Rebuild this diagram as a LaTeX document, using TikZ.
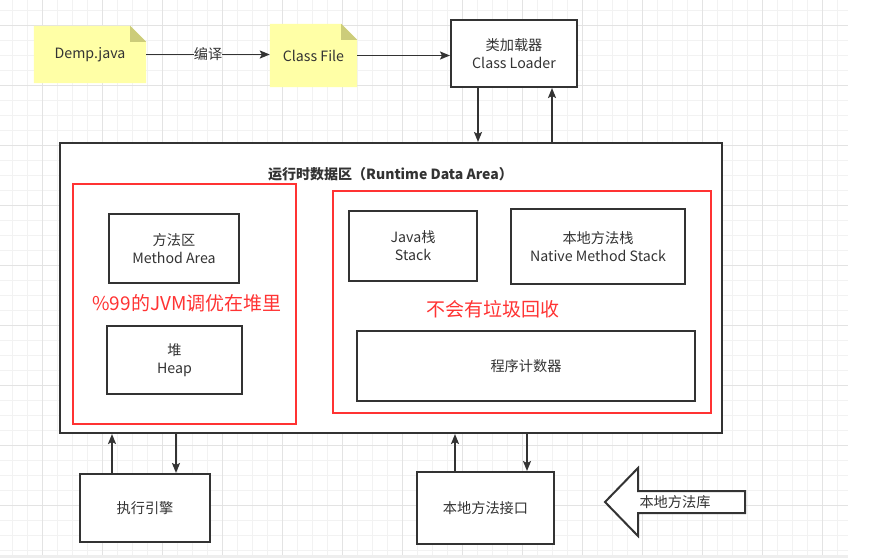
\documentclass[tikz,border=0pt]{standalone}
\usepackage{fontspec}
\setmainfont{Noto Sans CJK SC}
\usetikzlibrary{arrows.meta,calc}
\pgfdeclarelayer{gridlayer}
\pgfdeclarelayer{notelayer}
\pgfsetlayers{gridlayer,notelayer,main}
\definecolor{ink}{HTML}{333333}
\definecolor{redc}{HTML}{FF3333}
\definecolor{notey}{HTML}{FFFFA6}
\definecolor{notef}{HTML}{CCCC7A}
\definecolor{gmin}{HTML}{F2F2F2}
\definecolor{gmaj}{HTML}{E3E3E3}
\definecolor{band}{HTML}{EEEEEE}
\begin{document}
\begin{tikzpicture}[x=1pt,y=-1pt,
  txt/.style={text=ink, align=center, inner sep=0pt, font=\fontsize{14.2}{18}\selectfont},
  box/.style={txt, draw=ink, line width=2pt, fill=white},
  redbox/.style={draw=redc, line width=2.5pt, inner sep=0pt},
  redtext/.style={text=redc, inner sep=0pt, font=\fontsize{19}{22}\selectfont},
  notebox/.style={txt},
  arr/.style={draw=ink, line width=1.8pt, -{Stealth[length=10pt,width=8pt,inset=2pt]}},
  blockarrow/.style={draw=ink, line width=2pt, fill=white, line join=miter}
]
\useasboundingbox (0,0) rectangle (874,558);
\begin{pgfonlayer}{gridlayer}
  \fill[white] (0,0) rectangle (874,558);
  \foreach \x in {12,27,...,840} \draw[gmin, line width=0.8pt] (\x,0) -- (\x,555);
  \foreach \y in {10,25,...,550} \draw[gmin, line width=0.8pt] (0,\y) -- (848,\y);
  \foreach \x in {42,102,...,840} \draw[gmaj, line width=0.9pt] (\x,0) -- (\x,555);
  \foreach \y in {25,85,...,550} \draw[gmaj, line width=0.9pt] (0,\y) -- (848,\y);
  \fill[band] (0,555) rectangle (848,558);
\end{pgfonlayer}

% notes
\node[notebox, minimum width=112, minimum height=57] (demp) at (90,54.5) {Demp.java};
\node[notebox, minimum width=87, minimum height=63] (cf) at (313.5,55.5) {Class File};
\begin{pgfonlayer}{notelayer}
  \foreach \n in {demp,cf} {
    \fill[notey] (\n.south west) -- (\n.north west) -- ($(\n.north east)+(-16,0)$)
      -- ($(\n.north east)+(0,16)$) -- (\n.south east) -- cycle;
    \fill[notef] ($(\n.north east)+(-16,0)$) -- ($(\n.north east)+(0,16)$)
      -- ($(\n.north east)+(-16,16)$) -- cycle;
  }
\end{pgfonlayer}

% class loader
\node[box, minimum width=126, minimum height=67] (cl) at (514,53.5) {类加载器\\Class Loader};

% runtime data area
\node[box, minimum width=662, minimum height=290] (rt) at (391,288) {};
\node[txt, font=\fontsize{14}{16}\selectfont\bfseries] (title) at (390.5,174) {运行时数据区（Runtime Data Area）};

\node[redbox, minimum width=223, minimum height=240] (redL) at (184.5,304) {};
\node[box, minimum width=130, minimum height=69] (ma) at (174,248.5) {方法区\\Method Area};
\node[box, minimum width=135, minimum height=68] (heap) at (174.5,360) {堆\\Heap};
\node[redtext] (tipL) at (187,303) {\%99的JVM调优在堆里};

\node[redbox, minimum width=378, minimum height=222] (redR) at (522,302) {};
\node[box, minimum width=128, minimum height=70] (js) at (413,246) {Java栈\\Stack};
\node[box, minimum width=174, minimum height=75] (ns) at (598,246.5) {本地方法栈\\Native Method Stack};
\node[redtext] (tipR) at (493,309) {不会有垃圾回收};
\node[box, minimum width=338, minimum height=70] (pc) at (526,366) {程序计数器};

% bottom boxes
\node[box, minimum width=130, minimum height=68] (ee) at (145,508) {执行引擎};
\node[box, minimum width=137, minimum height=72] (ni) at (485.5,508) {本地方法接口};

% block arrow (native library)
\draw[blockarrow] (605,502) -- (638,468) -- (638,491) -- (745,491) -- (745,513)
  -- (638,513) -- (638,536) -- cycle;
\node[txt] (lib) at (675,502) {本地方法库};

% connectors
\draw[arr] (demp.east) -- node[fill=white, inner sep=1.5pt, txt] (lbl) {编译} (demp.east -| cf.west);
\draw[arr] (cf.east) -- (cf.east -| cl.west);
\draw[arr] ([xshift=-36pt]cl.south) -- ([xshift=-36pt]cl.south |- rt.north);
\draw[arr] ([xshift=38pt]cl.south |- rt.north) -- ([xshift=38pt]cl.south);
\draw[arr] ([xshift=-33pt]ee.north) -- ([xshift=-33pt]ee.north |- rt.south);
\draw[arr] ([xshift=31pt]ee.north |- rt.south) -- ([xshift=31pt]ee.north);
\draw[arr] ([xshift=-30.5pt]ni.north) -- ([xshift=-30.5pt]ni.north |- rt.south);
\draw[arr] ([xshift=41.5pt]ni.north |- rt.south) -- ([xshift=41.5pt]ni.north);
\end{tikzpicture}
\end{document}
